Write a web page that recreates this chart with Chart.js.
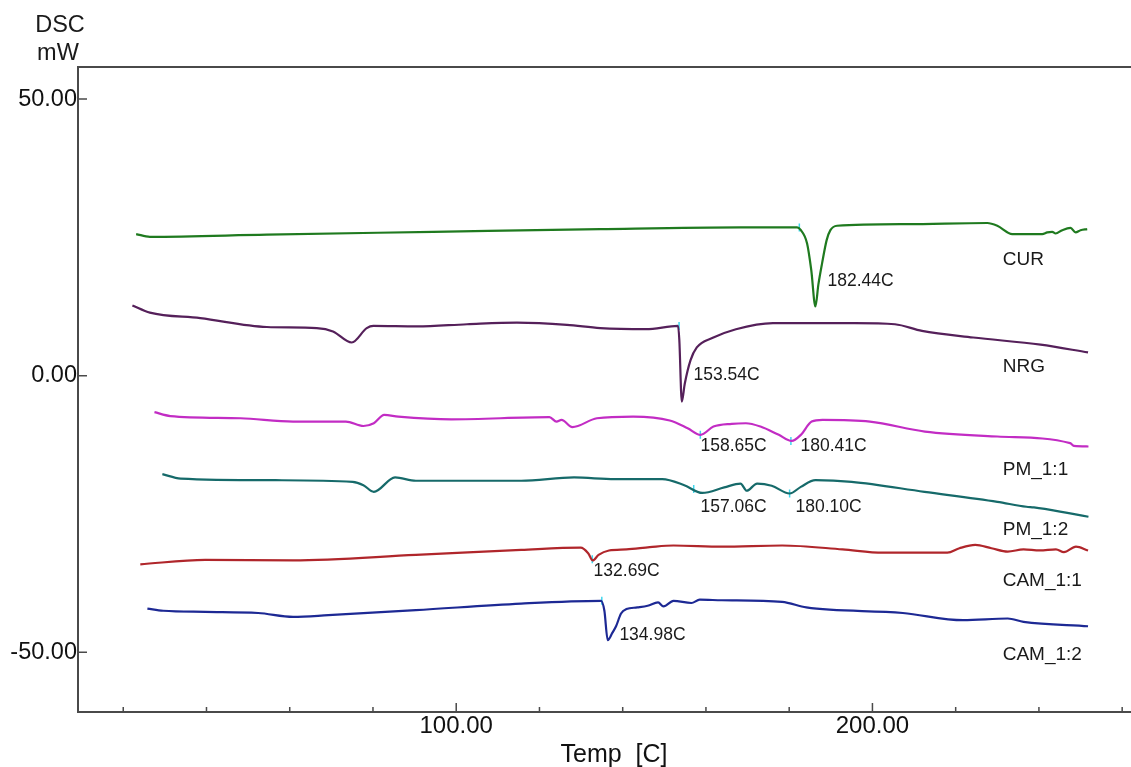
<!DOCTYPE html>
<html>
<head>
<meta charset="utf-8">
<title>DSC</title>
<script src="https://cdn.jsdelivr.net/npm/chart.js@4.4.1/dist/chart.umd.min.js"></script>
<style>
html, body { margin: 0; padding: 0; background: #fff; }
#wrap { width: 1131px; height: 767px; }
</style>
</head>
<body>
<div id="wrap"><canvas id="dsc" width="1131" height="767"></canvas></div>
<script>
//-------------------------- Curves (Temp C / DSC mW) --------------------------//
const tempCUR = [23.1, 26.4, 54.5, 94.5, 134.6, 168.3, 181.9, 182.7, 184.3, 185.3, 186.3, 187.0, 187.9, 189.0, 189.9, 191.5, 208.3, 227.6, 230.0, 233.6, 240.8, 242.0, 243.2, 244.0, 245.6, 247.6, 248.8, 250.0, 251.6];
const dscCUR  = [25.6, 25.1, 25.5, 26.0, 26.5, 26.8, 26.8, 26.4, 23.9, 19.1, 12.5, 16.4, 20.3, 24.5, 26.3, 27.1, 27.4, 27.6, 27.1, 25.6, 25.6, 25.9, 26.0, 25.7, 26.3, 26.7, 25.9, 26.3, 26.5];

const tempNRG = [22.2, 26.4, 38.5, 54.5, 66.5, 70.4, 74.9, 78.5, 80.1, 90.6, 102.6, 114.6, 126.6, 134.6, 145.6, 153.3, 153.6, 154.2, 154.9, 156.3, 157.8, 161.5, 167.2, 176.1, 183.4, 195.7, 205.4, 211.9, 224.2, 240.4, 251.8];
const dscNRG  = [12.7, 11.4, 10.4, 8.8, 8.6, 8.0, 6.0, 8.6, 9.0, 8.9, 9.3, 9.6, 9.2, 8.6, 8.4, 9.0, 6.5, -4.7, -1.5, 2.8, 5.1, 6.8, 8.4, 9.5, 9.5, 9.5, 9.3, 8.1, 6.9, 5.6, 4.2];

const tempPM11 = [27.5, 31.3, 48.2, 60.8, 73.5, 77.7, 80.2, 82.7, 86.1, 98.8, 122.4, 124.1, 125.3, 127.9, 133.8, 142.5, 151.3, 155.6, 158.7, 161.8, 166.2, 169.6, 173.1, 177.5, 180.6, 182.8, 185.4, 188.0, 199.4, 212.6, 230.0, 247.5, 248.4, 251.9];
const dscPM11  = [-6.6, -7.3, -7.7, -8.3, -8.3, -9.1, -8.6, -7.1, -7.4, -7.9, -7.5, -8.3, -8.0, -9.3, -7.7, -7.4, -8.1, -9.5, -10.7, -9.2, -8.7, -8.6, -9.2, -10.7, -11.8, -10.7, -8.3, -8.0, -8.3, -10.1, -11.0, -12.2, -12.7, -12.8];

const tempPM12 = [29.4, 33.8, 56.6, 75.1, 77.7, 80.2, 85.3, 90.3, 115.6, 128.3, 138.1, 149.5, 154.8, 159.1, 164.4, 168.3, 169.8, 172.3, 175.8, 180.1, 182.8, 186.3, 195.0, 212.5, 230.0, 237.0, 238.8, 247.5, 251.9];
const dscPM12  = [-17.8, -18.6, -18.9, -19.2, -19.8, -21.0, -18.4, -19.0, -19.0, -18.4, -18.7, -18.7, -19.8, -21.2, -20.2, -19.5, -20.8, -19.5, -19.9, -21.3, -20.1, -18.9, -19.2, -21.0, -22.8, -23.7, -23.8, -24.9, -25.5];

const tempCAM11 = [24.1, 39.7, 60.8, 90.3, 115.6, 129.9, 131.7, 132.8, 134.2, 136.7, 140.9, 146.5, 152.2, 163.8, 178.3, 192.8, 202.5, 218.0, 220.9, 224.7, 228.6, 232.5, 236.3, 240.2, 244.1, 246.0, 248.9, 251.8];
const dscCAM11  = [-34.1, -33.3, -33.4, -32.4, -31.5, -31.1, -32.1, -33.4, -32.4, -31.6, -31.4, -31.0, -30.7, -30.9, -30.7, -31.4, -32.0, -32.0, -31.2, -30.6, -31.2, -31.8, -31.4, -31.6, -31.4, -31.9, -30.9, -31.6];

const tempCAM12 = [25.8, 29.6, 39.7, 52.4, 60.8, 69.3, 90.3, 115.6, 134.8, 135.6, 136.4, 137.5, 138.4, 139.6, 140.9, 143.5, 146.0, 148.5, 149.8, 152.2, 156.5, 158.5, 163.8, 178.3, 184.1, 207.3, 221.8, 232.5, 236.3, 251.8];
const dscCAM12  = [-42.1, -42.5, -42.7, -42.9, -43.6, -43.3, -42.4, -41.2, -40.7, -42.5, -47.8, -46.5, -45.3, -43.0, -42.2, -41.9, -41.6, -41.0, -41.7, -40.7, -41.1, -40.5, -40.6, -40.9, -41.9, -42.9, -44.2, -43.9, -44.5, -45.3];

//-------------------------- Peaks and names --------------------------//
const peakTemp  = [182.44, 153.54, 158.65, 180.41, 157.06, 180.10, 132.69, 134.98];
const peakDsc   = [26.8, 9.0, -10.7, -11.8, -20.5, -21.3, -33.2, -40.7];
const peakText  = ['182.44C', '153.54C', '158.65C', '180.41C', '157.06C', '180.10C', '132.69C', '134.98C'];
const peakTextT = [189.2, 157.0, 158.7, 182.7, 158.7, 181.5, 133.0, 139.2];
const peakTextV = [17.1, 0.1, -12.8, -12.8, -23.7, -23.7, -35.4, -46.9];

const curveNames = ['CUR', 'NRG', 'PM_1:1', 'PM_1:2', 'CAM_1:1', 'CAM_1:2'];
const nameT = [231.3, 231.3, 231.3, 231.3, 231.3, 231.3];
const nameV = [20.9, 1.6, -17.1, -27.9, -37.1, -50.5];

const xTicksMajor = [100, 200];
const yTicks = [50, 0, -50];

//------------------------------------------------------------------//
function pts(t, v){
	return t.map((x, i) => ({x: x, y: v[i]}));
}
function curve(label, t, v, color){
	return {
		label: label,
		data: pts(t, v),
		borderColor: color,
		borderWidth: 2.2,
		pointRadius: 0,
		cubicInterpolationMode: 'monotone',
		fill: false
	};
}

const dataDSC = {
	datasets: [
		curve('CUR', tempCUR, dscCUR, '#1f7a1f'),
		curve('NRG', tempNRG, dscNRG, '#55205a'),
		curve('PM_1:1', tempPM11, dscPM11, '#c22cc4'),
		curve('PM_1:2', tempPM12, dscPM12, '#166a6a'),
		curve('CAM_1:1', tempCAM11, dscCAM11, '#b0262b'),
		curve('CAM_1:2', tempCAM12, dscCAM12, '#1d2994'),
		{
			label: 'peaks',
			type: 'scatter',
			data: pts(peakTemp, peakDsc),
			pointStyle: 'line',
			rotation: 90,
			pointRadius: 4,
			borderColor: '#3fd8ee',
			borderWidth: 1.5
		}
	]
};

//------------------------ Frame, ticks and texts -------------------------//
const framePlugin = {
	id: 'frame',
	afterDraw(chart){
		const ctx = chart.ctx;
		const a = chart.chartArea;
		const xs = chart.scales.x, ys = chart.scales.y;
		ctx.save();
		// frame is open on the right, top and bottom run to the edge
		ctx.strokeStyle = '#4a4a4a';
		ctx.lineWidth = 2;
		ctx.beginPath();
		ctx.moveTo(chart.width, a.top); ctx.lineTo(a.left, a.top);
		ctx.lineTo(a.left, a.bottom); ctx.lineTo(chart.width, a.bottom);
		ctx.stroke();

		// inward ticks
		ctx.lineWidth = 1.5;
		ctx.beginPath();
		for(let t = 20; t <= 260; t += 20){
			const px = xs.getPixelForValue(t);
			const len = xTicksMajor.includes(t) ? 9 : 5;
			ctx.moveTo(px, a.bottom); ctx.lineTo(px, a.bottom - len);
		}
		yTicks.forEach(v => {
			const py = ys.getPixelForValue(v);
			ctx.moveTo(a.left, py); ctx.lineTo(a.left + 9, py);
		});
		ctx.stroke();

		ctx.fillStyle = '#1a1a1a';
		ctx.textAlign = 'left';
		ctx.textBaseline = 'middle';
		ctx.font = '17.5px "Liberation Sans", Arial, sans-serif';
		peakText.forEach((s, i) => {
			ctx.fillText(s, xs.getPixelForValue(peakTextT[i]), ys.getPixelForValue(peakTextV[i]));
		});
		ctx.font = '19px "Liberation Sans", Arial, sans-serif';
		curveNames.forEach((s, i) => {
			ctx.fillText(s, xs.getPixelForValue(nameT[i]), ys.getPixelForValue(nameV[i]));
		});

		ctx.textAlign = 'center';
		ctx.font = '23.5px "Liberation Sans", Arial, sans-serif';
		ctx.fillText('DSC', 60, 26);
		ctx.fillText('mW', 58, 54);
		ctx.fillStyle = '#111';
		ctx.font = '25px "Liberation Sans", Arial, sans-serif';
		ctx.fillText('Temp  [C]', xs.getPixelForValue(137.9), 755);
		ctx.restore();
	}
};

const configDSC = {type: 'line', data: dataDSC, plugins: [framePlugin], options: {
	responsive: false,
	animation: false,
	devicePixelRatio: 1,
	layout: { padding: { top: 67, left: 0, right: 0, bottom: 0 } },
	plugins: {
		legend: { display: false },
		tooltip: { enabled: false }
	},
	scales: {
		x: {
			type: 'linear',
			min: 9.13,
			max: 260.8,
			afterFit: function(scale){ scale.height = 55; },
			grid: { display: false, drawTicks: false },
			border: { display: false },
			ticks: {
				stepSize: 20,
				autoSkip: false,
				maxRotation: 0,
				padding: 0,
				color: '#111',
				font: { family: '"Liberation Sans", Arial, sans-serif', size: 24 },
				callback: v => xTicksMajor.includes(v) ? v.toFixed(2) : ''
			}
		},
		y: {
			min: -60.8,
			max: 55.8,
			afterFit: function(scale){ scale.width = 78; },
			grid: { display: false, drawTicks: false },
			border: { display: false },
			ticks: {
				stepSize: 50,
				padding: 1,
				color: '#111',
				font: { family: '"Liberation Sans", Arial, sans-serif', size: 23.5 },
				callback: v => (v % 50 === 0) ? v.toFixed(2) : ''
			}
		}
	}
}};

const chartDSC = new Chart(document.getElementById('dsc'), configDSC);
</script>
</body>
</html>
